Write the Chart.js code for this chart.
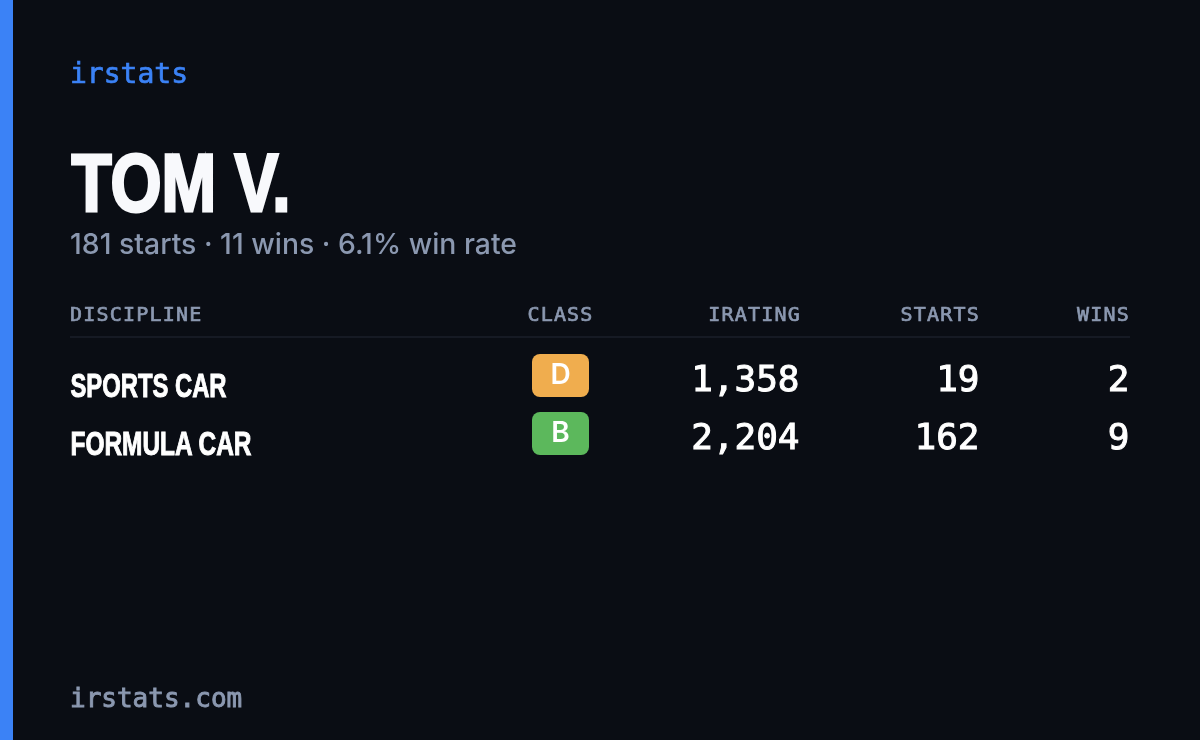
<!DOCTYPE html>
<html><head><meta charset="utf-8">
<script src="https://cdn.jsdelivr.net/npm/chart.js@4"></script>
<style>html,body{margin:0;padding:0;background:#0a0d14;overflow:hidden}canvas{display:block}</style>
</head><body><canvas id="c" width="1200" height="740"></canvas>
<script>
const brand = 'irstats';
const playerName = 'TOM V.';
const summary = '181 starts · 11 wins · 6.1% win rate';
const footer = 'irstats.com';
const columns = ['DISCIPLINE', 'CLASS', 'IRATING', 'STARTS', 'WINS'];
const disciplines = ['SPORTS CAR', 'FORMULA CAR'];
const classes = ['D', 'B'];
const iratings = [1358, 2204];
const starts = [19, 162];
const wins = [2, 9];

const classColor = { D: '#f0ad4e', B: '#5cb85c' };
const anchors = { DISCIPLINE: 70, CLASS: 560.5, IRATING: 801, STARTS: 980, WINS: 1130 };
const C = { bg: '#0a0d14', accent: '#3b82f6', title: '#f8f9fc', muted: '#8b98b0', rule: '#161a24', white: '#ffffff' };
const mono = '"DejaVu Sans Mono"';
const narrow = '"Liberation Sans"';

function badge(color) {
  const cv = document.createElement('canvas');
  cv.width = 57; cv.height = 43;
  const g = cv.getContext('2d');
  g.fillStyle = color;
  g.beginPath(); g.roundRect(0, 0, 57, 43, 8); g.fill();
  return cv;
}

function text(ctx, s, x, y, font, color, o = {}) {
  ctx.save();
  ctx.font = font; ctx.fillStyle = color;
  ctx.textAlign = o.align || 'left'; ctx.textBaseline = 'alphabetic';
  ctx.letterSpacing = o.spacing || '0px';
  ctx.fontKerning = 'normal';
  if (o.stroke) { ctx.strokeStyle = color; ctx.lineWidth = o.stroke; ctx.lineJoin = 'miter'; }
  if (o.fit) {
    if (o.stroke) ctx.strokeText(s, x, y, o.fit);
    ctx.fillText(s, x, y, o.fit);
  } else {
    if (o.stroke) ctx.strokeText(s, x, y);
    ctx.fillText(s, x, y);
  }
  ctx.restore();
}

const cardPlugin = {
  id: 'card',
  beforeDraw(chart) {
    const ctx = chart.ctx;
    ctx.save();
    ctx.fillStyle = C.bg; ctx.fillRect(0, 0, 1200, 740);
    ctx.fillStyle = C.accent; ctx.fillRect(0, 0, 13, 740);
    ctx.fillStyle = C.rule; ctx.fillRect(chart.scales.x.getPixelForValue(anchors.DISCIPLINE), 336, chart.scales.x.width, 2);
    ctx.restore();
  },
  afterDraw(chart) {
    const ctx = chart.ctx, xs = chart.scales.x, ys = chart.scales.y;
    text(ctx, brand, 70, 83, '28px ' + mono, C.accent, { stroke: 0.7 });
    text(ctx, playerName, 71.5, 210.5, 'bold 82px ' + narrow, C.title, { stroke: 3, fit: 219 });
    text(ctx, summary, 70, 254, '500 29px Inter', C.muted, { fit: 447 });
    text(ctx, footer, 70, 707, '26px ' + mono, C.muted, { stroke: 0.9 });

    const aligns = ['left', 'center', 'right', 'right', 'right'];
    columns.forEach((c, i) => {
      text(ctx, c, xs.getPixelForValue(anchors[c]), 321, '20px ' + mono, C.muted, { align: aligns[i], spacing: '1.2px', stroke: 0.7 });
    });
    disciplines.forEach((d, i) => {
      const y = ys.getPixelForValue(d);
      text(ctx, d, xs.getPixelForValue(anchors.DISCIPLINE) + 0.5, y + 21, 'bold 34px ' + narrow, C.white, { stroke: 1, fit: d.length === 10 ? 156 : 181 });
      text(ctx, classes[i], xs.getPixelForValue(anchors.CLASS), y + 8, '600 28px Inter', C.white, { align: 'center' });
      const right = { align: 'right', stroke: 1 };
      const f = '36px ' + mono;
      text(ctx, iratings[i].toLocaleString('en-US'), xs.getPixelForValue(anchors.IRATING) - 1.5, y + 15.5, f, C.white, right);
      text(ctx, String(starts[i]), xs.getPixelForValue(anchors.STARTS) - 0.5, y + 15.5, f, C.white, right);
      text(ctx, String(wins[i]), xs.getPixelForValue(anchors.WINS) - 0.5, y + 15.5, f, C.white, right);
    });
  }
};

new Chart(document.getElementById('c'), {
  type: 'scatter',
  data: {
    datasets: [{
      label: 'Class',
      data: disciplines.map((d) => ({ x: anchors.CLASS, y: d })),
      pointStyle: classes.map((k) => badge(classColor[k])),
      pointRadius: 28,
      pointHoverRadius: 28,
      clip: false
    }]
  },
  options: {
    responsive: false,
    animation: false,
    events: [],
    layout: { padding: { left: 70, right: 70, top: 346.5, bottom: 277.5 } },
    scales: {
      x: { type: 'linear', min: 70, max: 1130, display: false },
      y: { type: 'category', labels: disciplines, offset: true, display: false }
    },
    plugins: { legend: { display: false }, tooltip: { enabled: false } }
  },
  plugins: [cardPlugin]
});
</script></body></html>
